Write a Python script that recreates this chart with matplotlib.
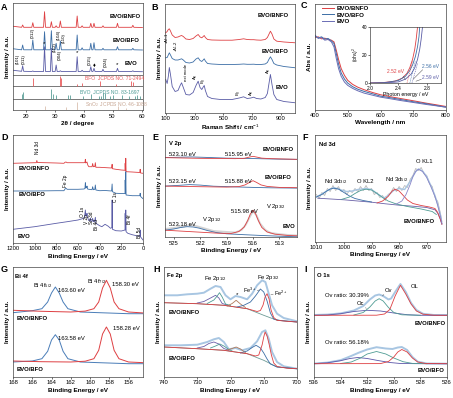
#!/usr/bin/env python3

import matplotlib
matplotlib.use('Agg')
from matplotlib import pyplot as plt

plt.rcParams['font.family'] = ['Liberation Sans', 'DejaVu Sans']
plt.rcParams['mathtext.fontset'] = 'custom'
plt.rcParams['mathtext.rm'] = 'Liberation Sans'
plt.rcParams['mathtext.it'] = 'Liberation Sans:italic'
plt.rcParams['mathtext.bf'] = 'Liberation Sans:bold'

RED = '#de3f42'
BLUE = '#3c6ea6'
PURPLE = '#5a5ca6'
TEAL = '#4f9c94'
ENV = '#a8c6e2'
GREY = '#b8b8b8'

# ---------------- A: XRD ----------------
xrd_2theta = [15.8, 18.65, 19.0, 19.35, 22.15, 22.5, 22.85, 26.2, 26.55, 26.9,
              28.55, 28.9, 29.25, 30.2, 30.55, 30.9, 31.65, 32.0, 32.35, 37.45,
              37.8, 38.15, 39.15, 39.5, 39.85, 42.15, 42.5, 42.85, 43.25, 43.6,
              43.95, 46.35, 46.7, 47.05, 51.35, 51.7, 52.05, 56.65, 57.0, 57.35,
              60.3]
xrd_bvo = [40.0, 39.0, 44.5, 39.0, 38.8, 39.3, 38.8, 38.8, 63.6, 38.8,
           38.8, 62.0, 38.8, 38.8, 45.3, 38.8, 38.8, 39.5, 38.8, 38.8,
           53.6, 38.8, 38.8, 40.0, 38.8, 38.8, 43.6, 38.8, 38.8, 42.0,
           38.8, 38.8, 41.0, 38.8, 38.8, 42.0, 38.8, 38.8, 39.5, 38.8, 38.6]
xrd_bfo = [61.5, 60.5, 65.3, 60.5, 60.5, 70.3, 60.5, 60.5, 78.6, 60.5,
           60.5, 79.6, 60.5, 60.5, 67.0, 60.5, 60.5, 69.3, 60.5, 60.5,
           75.3, 60.5, 60.5, 62.5, 60.5, 60.5, 67.0, 60.5, 60.5, 67.6,
           60.5, 60.5, 62.0, 60.5, 60.5, 63.6, 60.5, 60.5, 62.0, 60.5, 60.3]
xrd_bnfo = [84.0, 83.0, 85.3, 83.0, 83.0, 87.6, 83.0, 83.0, 98.6, 83.0,
            83.0, 88.6, 83.0, 83.0, 84.5, 83.0, 83.0, 89.3, 83.0, 83.0,
            94.3, 83.0, 83.0, 84.5, 83.0, 83.0, 87.0, 83.0, 83.0, 87.0,
            83.0, 83.0, 84.5, 83.0, 83.0, 87.0, 83.0, 83.0, 85.0, 83.0, 82.8]
ref_bfo_pos = [22.4, 31.8, 32.1, 37.8, 39.4, 45.8, 51.3, 56.4, 57.1]
ref_bfo_h = [8, 10, 8, 2.5, 3, 5.5, 2, 5, 4]
ref_bvo_pos = [18.7, 19.0, 28.9, 29.3, 30.5, 34.5, 35.2, 39.8, 42.5, 45.4,
               46.0, 46.7, 47.3, 49.0, 50.3, 53.3, 55.8, 57.8, 58.5, 59.3]
ref_bvo_h = [5, 7, 10, 5, 4, 4, 4, 3, 5, 3, 3, 6, 6, 3, 4, 4, 3, 3, 4, 3]
ref_sno2_pos = [26.6, 33.9, 37.9, 51.8, 54.7]
ref_sno2_h = [4, 3, 8, 4, 2]

# ---------------- B: Raman ----------------
raman_x = [100, 110, 118, 125, 133, 145, 165, 185, 200, 210, 222, 240, 265, 290,
           310, 325, 338, 350, 360, 367, 375, 390, 420, 480, 560, 610, 640, 665,
           690, 710, 730, 760, 790, 805, 815, 826, 837, 850, 870, 920, 1000]
raman_bvo = [33, 29, 36, 45, 38, 26, 21, 22, 27, 29.7, 25, 18, 17.5, 20,
             27, 31.3, 25, 23, 25.5, 27, 22, 16, 14, 13, 13, 14.5, 15.7, 14,
             14.5, 15.3, 14, 13.5, 15, 19, 28, 38, 28, 18, 13, 11, 9.7]
raman_bfo = [54.7, 55, 57.5, 59.7, 57.5, 54, 52.5, 52.5, 53.2, 53.7, 52.5, 50, 49.5, 50.5,
             53.5, 54.7, 52, 51, 52.5, 53.7, 51.5, 49, 48.5, 48, 48, 48.2, 48.5, 48.2,
             48.2, 48.3, 48, 48, 48.5, 50, 53, 55.7, 53, 49, 47.5, 46, 44.7]
raman_bnfo = [79.7, 81, 83, 83.7, 81.5, 77.5, 75, 75.5, 76.5, 77, 76, 73.5, 73, 74,
              76.5, 78, 75.5, 74.7, 76, 77, 75, 73, 72.5, 72.3, 72.3, 73, 73.7, 73,
              72.8, 72.8, 72.5, 72.3, 73, 75, 78, 81.3, 78.5, 73.5, 71.3, 70.5, 69.7]

# ---------------- C: UV-vis ----------------
uv_nm = [400, 410, 420, 430, 440, 450, 458, 465, 472, 480, 490, 500,
         515, 530, 550, 575, 600, 630, 660, 700, 740, 770, 800]
uv_bnfo = [71.7, 72.3, 70.3, 71, 69.7, 69, 67.3, 59, 49.7, 40.7, 34, 29,
           25, 22.3, 19.7, 17, 14.7, 12.7, 11, 8.7, 6.3, 4.7, 3]
uv_bfo = [73, 71.3, 72.3, 70, 70.7, 68.3, 65.7, 55.7, 45, 36.3, 30.3, 26.3,
          22.7, 20.3, 18, 15.7, 13.3, 11.7, 10, 7.7, 5.7, 4, 2.3]
uv_bvo = [74, 70.7, 71.7, 69, 69.7, 67.3, 62.3, 50.7, 40.7, 33, 27.3, 24,
          21, 18.7, 16.3, 14.3, 12.3, 10.7, 9, 7, 5, 3.7, 2.3]
tauc_e_bnfo = [2.0, 2.2, 2.35, 2.45, 2.52, 2.56, 2.6, 2.63, 2.65, 2.67]
tauc_bnfo = [0.3, 0.6, 1.5, 3.5, 7, 11, 17, 24, 31, 40]
tauc_e_bfo = [2.0, 2.2, 2.4, 2.5, 2.56, 2.6, 2.64, 2.67, 2.69, 2.70]
tauc_bfo = [0.2, 0.4, 2, 5, 9, 13, 19, 26, 33, 40]
tauc_e_bvo = [2.0, 2.2, 2.4, 2.5, 2.58, 2.63, 2.67, 2.70, 2.72, 2.74]
tauc_bvo = [0.1, 0.2, 1, 3, 6.5, 11, 17, 24, 31, 40]
gaps = [2.52, 2.56, 2.59]
gap_tangent_top = [(2.60, 16), (2.64, 16), (2.67, 14)]

# ---------------- D: XPS survey ----------------
sv_be_bvo = [1200, 1100, 1000, 900, 800, 700, 600, 560, 540, 532, 528, 520, 517, 512,
             500, 490, 487, 484, 470, 465, 458, 445, 440, 435, 400, 380, 350, 320,
             300, 288, 285, 282, 250, 200, 166, 164.5, 162, 159, 156, 140, 100, 50,
             28, 26, 24, 0]
sv_bvo = [13.7, 15, 16.3, 18, 19.7, 21.3, 23, 24.3, 25.7, 33, 27, 28, 29.7, 25.7,
          22.3, 23, 24.7, 22.3, 21.7, 24.7, 21.3, 22.3, 25.7, 19.7, 17.3, 16.3, 18.7, 16.7,
          14.7, 15.3, 43, 13.7, 12.3, 12, 13, 29.7, 13, 33, 11.3, 9.7, 8.3, 7,
          7, 13, 6.3, 3]
sv_be_bfo = [1200, 1000, 800, 730, 720, 711, 700, 600, 545, 536, 532, 528, 520, 517,
             512, 500, 470, 465, 458, 445, 440, 435, 400, 350, 290, 285, 282, 250,
             200, 166, 164.5, 162, 159, 156, 100, 30, 26, 22, 0]
sv_bfo = [52, 52, 52.3, 52.3, 54, 54.7, 53.7, 53.7, 54, 54.5, 60.3, 55, 55.5, 57,
          54, 53.7, 53.3, 56.3, 53.3, 53.7, 58, 53, 52.3, 52.5, 52, 59, 51.3, 49.7,
          49.5, 49.5, 63, 49.3, 71.3, 48, 47.3, 47.3, 49.7, 46.5, 44.3]
sv_be_bnfo = [1200, 1100, 1000, 985, 980, 975, 900, 800, 730, 720, 711, 700, 600, 545,
              536, 532, 528, 517, 510, 500, 470, 465, 458, 445, 440, 435, 400, 290,
              285, 282, 250, 200, 166, 164.5, 162, 159, 156, 100, 30, 26, 22, 0]
sv_bnfo = [79.7, 80, 80.3, 80.3, 82.5, 80.5, 80.3, 80, 79.7, 80.7, 81, 80.3, 80.3, 80.3,
           80.5, 83.7, 80, 81, 78, 76.3, 76.3, 79.5, 76.3, 76.5, 80.3, 75.7, 75.7, 75,
           78.7, 74.3, 73.7, 73, 72.7, 79.7, 72.5, 84.7, 71.3, 71, 70.5, 73.7, 70, 69.7]

# ---------------- E: V 2p ----------------
e_bvo_red_be = [526, 524, 522, 520, 518.5, 517.6, 517, 516.6, 516.3, 516, 515.7, 515.4,
                515, 514.4, 513.5, 512, 511]
e_bvo_red = [7.3, 6.3, 5.3, 4.3, 4, 6, 10.5, 17, 23.5, 27.3, 23.5, 17,
             10, 5.5, 3.3, 2, 1.7]
e_bvo_blue_be = [526, 525, 524.2, 523.5, 522.8, 522.1, 521.2, 520.2, 519, 517, 515, 513, 511]
e_bvo_blue = [7.3, 8.5, 10, 10.8, 10.5, 9.3, 7, 5, 3.7, 2.8, 2, 1.3, 0.7]
e_bvo_raw_be = [526, 525, 524, 523, 522.3, 521.5, 520.5, 519, 518, 517.3, 516.8, 516.4,
                516, 515.6, 515.2, 514.6, 514, 513, 512, 511]
e_bvo_raw = [8.5, 9.5, 11, 12.5, 11, 9, 6.5, 5.5, 5, 7.5, 13, 20,
             26.5, 22, 14, 7.5, 4.5, 3.3, 2.5, 2]
e_bfo_red_be = [526, 522, 519, 517.6, 516.9, 516.4, 516, 515.6, 515.1, 514.4, 513, 511]
e_bfo_red = [51.3, 50.7, 50.3, 50.8, 52.5, 55, 56.7, 55, 52.5, 51, 50, 49.7]
e_bfo_blue_be = [526, 524.5, 523.2, 522, 520.5, 518, 516, 514, 511]
e_bfo_blue = [51.3, 52, 52.8, 52.3, 51.2, 50.5, 50, 49.6, 49.3]
e_bnfo_red_be = [526, 522, 518, 517, 516.4, 516, 515.6, 515, 514, 511]
e_bnfo_red = [79.7, 79, 78.7, 79, 80.3, 81, 80.3, 79.2, 78.7, 78]
e_bnfo_blue_be = [526, 524.5, 523, 521.5, 519, 517, 515, 513, 511]
e_bnfo_blue = [79.7, 80.1, 80.4, 80, 79.2, 79, 78.6, 78.2, 78]

# ---------------- F: Nd 3d ----------------
f_raw_be = list(range(1010, 964, -1)) + [964.5]
f_raw = [47, 43, 49, 46, 53, 50, 56, 51, 55, 50, 52, 47, 51, 49, 53, 50, 55, 51, 56, 51,
         53, 47, 49, 44, 46, 41, 47, 49, 54, 50, 55, 51, 56, 54, 62, 66, 73, 71, 74, 68,
         66, 58, 55, 44, 40, 28, 20]
f_env_be = [1010, 1008, 1006, 1003.7, 1001, 999, 997, 995, 992, 990, 987.5, 985.5, 984,
            982, 980, 978, 976, 974, 973, 971.5, 970, 968.5, 967, 966, 965, 964.5]
f_env = [44.5, 47.5, 51, 54, 51.5, 50, 50.5, 52, 53, 52, 47, 43.5, 46,
         51, 53, 52, 60, 70, 72.5, 70.5, 65, 56, 46, 37, 26, 18]
f_bg_be = [1009.5, 1000, 990, 985, 980, 975, 970, 967, 966, 965, 964.5]
f_bg = [43.3, 41.7, 39.3, 37.7, 36.3, 35.3, 34, 31.7, 28.3, 21.7, 17.3]
f_nd32_be = [1010, 1008, 1006.5, 1005, 1003.7, 1002, 1000, 998, 996, 993, 990]
f_nd32 = [44.5, 47, 50, 52.5, 53.3, 52.5, 49, 45.5, 43, 41, 39.5]
f_okl2_be = [1001, 998, 996, 994, 992, 990, 988, 986, 984, 981, 977, 972, 968, 966.5]
f_okl2 = [42, 44.5, 48, 51, 52.3, 51.5, 48, 44, 40.5, 37.5, 35, 32.5, 30, 27]
f_nd52_be = [988, 986, 984, 982.5, 981.5, 980, 978.5, 977, 975, 972, 969, 967, 966, 965, 964.5]
f_nd52 = [38.5, 40.5, 45, 50.5, 52.3, 50.5, 46, 41.5, 38, 36, 34.5, 33, 29, 22, 17.3]
f_okl1_be = [981, 979, 977.5, 976, 975, 974, 973, 971.5, 970, 968.5, 967, 966, 965, 964.5]
f_okl1 = [37.5, 40.5, 47, 57, 65, 70, 72.3, 70, 64, 55, 45, 36, 25, 18]

# ---------------- G: Bi 4f ----------------
g_red_be = [168, 165, 162, 160.5, 159.6, 159.1, 158.7, 158.3, 157.9, 157.5, 157.0, 156, 154.4]
g_bnfo_red = [66.7, 65.7, 65, 65.9, 68.3, 75, 89, 96.7, 89, 75, 68.3, 65, 64]
g_bfo_red = [16, 15.3, 15, 15.8, 18.3, 26.7, 43, 50, 43, 26.7, 18.3, 15, 14.3]
g_blue_be = [168, 166, 165, 164.4, 164.0, 163.6, 163.2, 162.8, 162.3, 161, 159, 156, 154.4]
g_bnfo_blue = [64.3, 66.3, 68.3, 75, 84, 90, 84, 75, 68.3, 65, 64.3, 63.3, 63.3]
g_bfo_blue = [15, 16, 18.3, 25.7, 37, 42.3, 37, 25.7, 18.3, 15, 14.3, 13.3, 13.3]

# ---------------- H: Fe 2p ----------------
h_bnfo_env_be = [740, 736, 733, 730, 728, 726, 724.5, 723, 721.5, 720, 718.5, 717, 715,
                 713.5, 712, 710.5, 709.5, 708.5, 707.5, 706, 704, 700]
h_bnfo_env = [81.7, 81.7, 82.7, 83.3, 84.3, 88.3, 91, 90, 81.7, 77.7, 81, 80, 77.7,
              83.3, 91.7, 96.7, 95, 83.3, 71.7, 63.3, 59, 55.7]
h_bnfo_bg_be = [740, 730, 722, 715, 710, 706, 700]
h_bnfo_bg = [74.3, 73.3, 71.7, 68.3, 61.7, 56.7, 55]
h_bnfo_fe3_be = [718, 716, 714, 712.5, 711, 710, 709, 708, 707, 705, 700]
h_bnfo_fe3 = [70, 71.7, 75, 81, 88, 85, 76, 64, 58, 56.5, 55]
h_bnfo_fe2_be = [740, 730, 722, 715, 712, 711, 710.2, 709.6, 709.0, 708.4, 707.8, 707, 706, 703, 700]
h_bnfo_fe2 = [74.3, 73.3, 71.7, 68.3, 65.5, 66.5, 72, 80, 83.3, 78, 67, 59.5, 56.7, 55.7, 55]
h_bnfo_p1_be = [730, 728, 726, 724.5, 723.5, 722.5, 721]
h_bnfo_p1 = [74, 75.5, 79, 81.7, 79, 73.5, 72]
h_bnfo_p2_be = [727, 725, 724, 723.3, 722.5, 721.5, 720]
h_bnfo_p2 = [73.5, 77, 81, 84.3, 80, 73, 71.5]
h_bnfo_sat_be = [721, 719.5, 718.3, 717, 715.5]
h_bnfo_sat = [71, 73.5, 76.7, 73, 69.5]
h_bfo_env_be = [740, 735, 730, 727, 725, 723.5, 722, 720.5, 718.5, 716.5, 714, 712,
                710.5, 709.5, 708.5, 707.5, 706, 704, 700]
h_bfo_env = [31.7, 31.7, 32.3, 35, 37.7, 39, 35, 27.7, 29, 26.7, 29, 35.7,
             45, 46.7, 38.3, 25, 15, 10.7, 8.3]
h_bfo_bg_be = [740, 730, 722, 715, 710, 706, 700]
h_bfo_bg = [30, 28.3, 26.7, 23.3, 16.7, 10, 8.3]
h_bfo_fe2_be = [740, 730, 722, 715, 712.5, 711.5, 710.5, 710, 709.6, 709, 708.4, 707.7,
                707, 706, 703, 700]
h_bfo_fe2 = [30, 28.3, 26.7, 23.3, 21, 22, 32, 40, 45, 41, 33, 22, 14, 10.5, 8.8, 8.3]
h_bfo_fe3_be = [717, 715, 713.5, 712.3, 711, 710, 709, 708, 706, 700]
h_bfo_fe3 = [24, 26, 29.5, 31.7, 29, 24, 18, 13, 10, 8.3]
h_bfo_p1_be = [730, 728, 726.5, 725, 723.5, 722, 720.5]
h_bfo_p1 = [29, 30.5, 33.5, 35, 33, 28.5, 26.7]
h_bfo_p2_be = [726, 724.5, 723.2, 722, 720.5, 719.5]
h_bfo_p2 = [29, 31, 33, 31, 27.5, 26]
h_bfo_sat_be = [721, 719.5, 718.3, 717, 715.5]
h_bfo_sat = [27, 28.5, 30, 28, 24.3]

# ---------------- I: O 1s ----------------
i_bnfo_oc_be = [536, 535, 534, 533, 532, 531, 530, 529, 528, 526]
i_bnfo_oc = [61.7, 62, 63.3, 65.5, 66.7, 66, 64, 62.3, 61.7, 61.7]
i_bnfo_ov_be = [533, 532.3, 531.8, 531.4, 531.1, 530.8, 530.4, 530.0, 529.4, 528]
i_bnfo_ov = [62, 64.5, 70, 76, 78.3, 76, 69.5, 64.5, 62.2, 61.7]
i_bnfo_ol_be = [536, 531.3, 530.7, 530.3, 529.9, 529.5, 529.1, 528.7, 528.3, 527.8, 527, 526]
i_bnfo_ol = [61.7, 61.8, 63, 67.5, 81, 91.7, 83, 73, 66, 62.8, 61.8, 61.7]
i_bnfo_env_be = [536, 535, 534, 533, 532.3, 531.8, 531.4, 531.1, 530.8, 530.4, 530.2,
                 529.9, 529.5, 529.1, 528.7, 528.3, 527.8, 527, 526]
i_bnfo_env = [62, 62.4, 63.6, 66.5, 71, 77.5, 81.5, 82.5, 81, 77.5, 78.5,
              85, 93, 85, 74, 67, 63.2, 62, 62]
i_bfo_oc_be = [536, 535, 534, 533.3, 532.7, 532, 531.2, 530.3, 529.5, 528, 526]
i_bfo_oc = [13.4, 14.2, 16.3, 18.5, 19.5, 18.5, 16.5, 14.5, 13.5, 13.3, 13.3]
i_bfo_ov_be = [534, 533.2, 532.5, 532, 531.3, 530.6, 530, 529.3, 528.6, 527.5]
i_bfo_ov = [13.5, 15, 19, 23, 25.5, 23, 19, 15.3, 13.6, 13.3]
i_bfo_ol_be = [536, 531, 530.4, 530, 529.7, 529.4, 529.0, 528.6, 528.2, 527.6, 526]
i_bfo_ol = [13.3, 13.4, 15.5, 20, 25, 27.5, 25, 19, 15, 13.5, 13.3]
i_bfo_env_be = [536, 535, 534, 533.3, 532.6, 532, 531.3, 530.6, 530.1, 529.7, 529.4,
                529.0, 528.6, 528.2, 527.5, 526]
i_bfo_env = [13.4, 14.4, 16.8, 20.5, 24.5, 27.5, 29.8, 28.5, 28, 29.5, 30,
             27, 20, 15.3, 13.5, 13.3]


W, H = 453, 398


def rect(left, top, right, bottom):
    return [left / W, 1 - bottom / H, (right - left) / W, (bottom - top) / H]


def setup(ax, xlim, ylim, xticks, xlabel, ylabel='Intensity / a.u.'):
    ax.set_xlim(xlim)
    ax.set_ylim(ylim)
    ax.set_xticks(xticks)
    ax.set_yticks([])
    ax.tick_params(axis='x', labelsize=4.2, length=1.5, width=0.4, pad=1)
    for s in ax.spines.values():
        s.set_linewidth(0.5)
        s.set_color('#444444')
    ax.set_xlabel(xlabel, fontsize=4.6, fontweight='bold', labelpad=1.5)
    ax.set_ylabel(ylabel, fontsize=4.6, fontweight='bold', labelpad=2)


def label(ax, x, y, s, size=4.2, **kw):
    kw.setdefault('ha', 'center')
    kw.setdefault('va', 'center')
    ax.text(x, y, s, fontsize=size, **kw)


def lead(ax, xy, xytext):
    ax.annotate('', xy=xy, xytext=xytext,
                arrowprops=dict(arrowstyle='-', lw=0.3, color='#333333'))


sub = lambda s: r'$\mathregular{_{' + s + '}}$'

fig = plt.figure(figsize=(W / 100, H / 100), dpi=100)

# ---- A ----
ax = fig.add_axes(rect(12.5, 3, 143, 110.3))
ax.plot(xrd_2theta, xrd_bnfo, color=RED, lw=0.6)
ax.plot(xrd_2theta, xrd_bfo, color=BLUE, lw=0.6)
ax.plot(xrd_2theta, xrd_bvo, color=PURPLE, lw=0.6)
for yline in (35.6, 24, 11.6):
    ax.axhline(yline, color='#444444', lw=0.5)
ax.vlines(ref_bfo_pos, 24, [24 + h for h in ref_bfo_h], color='#e8585a', lw=0.6)
ax.vlines(ref_bvo_pos, 11.6, [11.6 + h for h in ref_bvo_h], color='#5a9e96', lw=0.6)
ax.vlines(ref_sno2_pos, 0, ref_sno2_h, color='#d9bfae', lw=0.6)
label(ax, 40.5, 32.3, 'BFO  JCPDS NO. 71-2494', size=3.6, ha='left', color='#e55a5c')
label(ax, 38.8, 17.5, 'BVO  JCPDS NO. 83-1697', size=3.6, ha='left', color='#4d9a94')
label(ax, 40.5, 6.0, 'SnO$_2$  JCPDS NO. 46-1088', size=3.6, ha='left', color='#c7a592')
label(ax, 54.5, 94, 'BVO/BNFO', fontweight='bold')
label(ax, 54.5, 70, 'BVO/BFO', fontweight='bold')
label(ax, 56.2, 47, 'BVO', fontweight='bold')
for x, y, s in [(17.4, 46.5, '(101)'), (19.3, 46.0, '(011)'), (30.0, 58.6, '(112)'),
                (31.7, 50.3, '(004)'), (42.1, 45.3, '(015)'), (47.8, 43.6, '(024)'),
                (22.6, 72.0, '(012)'), (31.5, 70.3, '(104)'), (33.2, 67.0, '(110)')]:
    label(ax, x, y, s, size=3.2, rotation=90, va='bottom')
for x, y in [(26.55, 64.5), (37.8, 55), (51.7, 43.5)]:
    label(ax, x, y, '*', size=4.5, va='bottom')
label(ax, 43.7, 45.0, '\u2666', size=4)
setup(ax, (15.5, 60.5), (0, 107.3), [20, 30, 40, 50, 60], '2θ / degree')

# ---- B ----
ax = fig.add_axes(rect(165, 3.5, 295.5, 112.5))
ax.plot(raman_x, raman_bnfo, color=RED, lw=0.6)
ax.plot(raman_x, raman_bfo, color=BLUE, lw=0.6)
ax.plot(raman_x, raman_bvo, color=PURPLE, lw=0.6)
label(ax, 846, 97, 'BVO/BNFO', fontweight='bold')
label(ax, 860, 61, 'BVO/BFO', fontweight='bold')
label(ax, 908, 25, 'BVO', fontweight='bold')
for x, y, s in [(110, 68, '-A' + sub('1') + '-1'), (172, 60, '-A' + sub('1') + '-2'),
                (242, 31.3, 'ext mode'), (306, 33, 'A' + sub('g')), (362, 28, 'B' + sub('g')),
                (607, 16.3, 'B' + sub('g')), (694, 16.3, 'A' + sub('g')),
                (812, 39, 'A' + sub('g'))]:
    label(ax, x, y, s, size=3.1, rotation=90, va='bottom')
setup(ax, (95, 1000), (0, 109), [100, 300, 500, 700, 900], 'Raman Shift / cm$^{-1}$')

# ---- C ----
ax = fig.add_axes(rect(315, 4, 446, 109.5))
ax.plot(uv_nm, uv_bnfo, color=RED, lw=0.7, label='BVO/BNFO')
ax.plot(uv_nm, uv_bfo, color=BLUE, lw=0.7, label='BVO/BFO')
ax.plot(uv_nm, uv_bvo, color='#6a6db5', lw=0.7, label='BVO')
setup(ax, (400, 800), (0, 105), [400, 500, 600, 700, 800], 'Wavelength / nm',
      'Abs / a.u.')
ax.legend(loc='upper left', bbox_to_anchor=(0.05, 0.98), frameon=False,
          prop={'size': 4.4, 'weight': 'bold'}, handlelength=2.0,
          handletextpad=0.4, labelspacing=0.15, borderaxespad=0, borderpad=0)

axi = fig.add_axes(rect(370, 26.7, 441, 83.3))
for e, y, c in [(tauc_e_bnfo, tauc_bnfo, RED), (tauc_e_bfo, tauc_bfo, BLUE),
                (tauc_e_bvo, tauc_bvo, PURPLE)]:
    axi.plot(e, y, color=c, lw=0.6)
for g, top, c in zip(gaps, gap_tangent_top, [RED, BLUE, PURPLE]):
    axi.plot([g, top[0]], [0, top[1]], color=c, lw=0.4, ls=(0, (2, 1.5)))
label(axi, 2.36, 8.5, '2.52 eV', size=3.5, color=RED)
label(axi, 2.85, 12, '2.56 eV', size=3.5, color=BLUE)
label(axi, 2.85, 3.8, '2.59 eV', size=3.5, color=PURPLE)
lead(axi, (2.52, 1.0), (2.45, 6.5))
lead(axi, (2.58, 1.5), (2.77, 11))
lead(axi, (2.61, 0.8), (2.76, 3.5))
axi.set_xlim(2.0, 3.0)
axi.set_ylim(0, 40)
axi.set_xticks([2.0, 2.4, 2.8])
axi.set_yticks([0, 20, 40])
axi.tick_params(labelsize=3.5, length=1.2, width=0.4, pad=0.8)
for s in axi.spines.values():
    s.set_linewidth(0.5)
    s.set_color('#444444')
axi.set_xlabel('Photon energy / eV', fontsize=3.8, labelpad=0.5)
axi.set_ylabel('(αhν)$^2$', fontsize=3.5, labelpad=0.5)

# ---- D ----
ax = fig.add_axes(rect(13, 135, 143, 243))
ax.plot(sv_be_bnfo, sv_bnfo, color=RED, lw=0.6)
ax.plot(sv_be_bfo, sv_bfo, color=BLUE, lw=0.6)
ax.plot(sv_be_bvo, sv_bvo, color=PURPLE, lw=0.6)
label(ax, 1009, 74.7, 'BVO/BNFO', fontweight='bold')
label(ax, 1021, 48, 'BVO/BFO', fontweight='bold')
label(ax, 1100, 7, 'BVO', fontweight='bold')
for x, y, s in [(975, 95.5, 'Nd 3d'), (717, 61.7, 'Fe 2p'), (562, 31, 'O 1s'),
                (522, 23.8, 'V 2p'), (478, 25, 'Sn 3d'), (428, 18, 'Bi 4d'),
                (258, 46.3, 'C 1s'), (129, 24, 'Bi 4f'), (31, 10.5, 'Bi 5d')]:
    label(ax, x, y, s, size=3.4, rotation=90)
setup(ax, (1200, 0), (0, 108), [1200, 1000, 800, 600, 400, 200, 0],
      'Binding Energy / eV')

# ---- E ----
ax = fig.add_axes(rect(165, 135, 297, 237.5))
ax.plot(e_bvo_raw_be, e_bvo_raw, color=GREY, lw=1.4, alpha=0.6)
for be, y, c in [(e_bnfo_blue_be, e_bnfo_blue, BLUE), (e_bnfo_red_be, e_bnfo_red, RED),
                 (e_bfo_blue_be, e_bfo_blue, BLUE), (e_bfo_red_be, e_bfo_red, RED),
                 (e_bvo_blue_be, e_bvo_blue, BLUE), (e_bvo_red_be, e_bvo_red, RED)]:
    ax.plot(be, y, color=c, lw=0.6)
label(ax, 525.6, 94, 'V 2p', ha='left', fontweight='bold')
label(ax, 525.6, 83.3, '523.10 eV', ha='left')
label(ax, 519.2, 83.3, '515.95 eV', ha='left')
label(ax, 514.9, 88, 'BVO/BNFO', ha='left', fontweight='bold')
label(ax, 525.6, 55.7, '523.15 eV', ha='left')
label(ax, 519.2, 55.7, '515.88 eV', ha='left')
label(ax, 514.7, 59.7, 'BVO/BFO', ha='left', fontweight='bold')
label(ax, 525.6, 13.3, '523.18 eV', ha='left')
label(ax, 521.8, 18, 'V 2p' + sub('1/2'), ha='left')
label(ax, 518.5, 26.3, '515.98 eV', ha='left')
label(ax, 514.5, 31.3, 'V 2p' + sub('3/2'), ha='left')
label(ax, 512.6, 10.7, 'BVO', ha='left', fontweight='bold')
setup(ax, (526, 511), (0, 102.3), [525, 522, 519, 516, 513], 'Binding Energy / eV')

# ---- F ----
ax = fig.add_axes(rect(315, 135, 446, 241.5))
ax.plot(f_raw_be, f_raw, color=GREY, lw=0.6)
ax.plot(f_env_be, f_env, color=ENV, lw=1.0)
ax.plot(f_bg_be, f_bg, color='#6b62a8', lw=0.6)
ax.plot(f_nd32_be, f_nd32, color=BLUE, lw=0.6)
ax.plot(f_okl2_be, f_okl2, color=TEAL, lw=0.6)
ax.plot(f_nd52_be, f_nd52, color=RED, lw=0.6)
ax.plot(f_okl1_be, f_okl1, color='#8a86c8', lw=0.6)
label(ax, 1009.2, 96.7, 'Nd 3d', ha='left', fontweight='bold')
label(ax, 970.8, 80, 'O KL1')
label(ax, 1003.1, 60, 'Nd 3d' + sub('3/2'))
label(ax, 992.1, 60, 'O KL2')
label(ax, 981, 61.7, 'Nd 3d' + sub('5/2'))
label(ax, 972.6, 20, 'BVO/BNFO', fontweight='bold')
setup(ax, (1010.5, 963), (0, 106.5), [1010, 1000, 990, 980, 970], 'Binding Energy / eV')

# ---- G ----
ax = fig.add_axes(rect(13, 267, 143, 377))
ax.plot(g_blue_be, g_bnfo_blue, color='#4a7db8', lw=0.7)
ax.plot(g_red_be, g_bnfo_red, color=RED, lw=0.7)
ax.plot(g_blue_be, g_bfo_blue, color='#4a7db8', lw=0.7)
ax.plot(g_red_be, g_bfo_red, color=RED, lw=0.7)
label(ax, 167.8, 100, 'Bi 4f', ha='left', fontweight='bold')
label(ax, 164.9, 91.7, 'Bi 4f' + sub('5/2'))
label(ax, 163.3, 86.7, '163.60 eV', ha='left')
label(ax, 159.3, 95.7, 'Bi 4f' + sub('7/2'))
label(ax, 157.7, 92.3, '158.30 eV', ha='left')
label(ax, 167.65, 58.3, 'BVO/BNFO', ha='left', fontweight='bold')
label(ax, 163.3, 39, '163.58 eV', ha='left')
label(ax, 157.6, 48.3, '158.28 eV', ha='left')
label(ax, 167.65, 7.7, 'BVO/BFO', ha='left', fontweight='bold')
setup(ax, (168, 154.5), (0, 110), [168, 166, 164, 162, 160, 158, 156],
      'Binding Energy / eV')

# ---- H ----
ax = fig.add_axes(rect(164, 267, 297, 377))
for grp in [(h_bnfo_env_be, h_bnfo_env, h_bnfo_bg_be, h_bnfo_bg, h_bnfo_p1_be, h_bnfo_p1,
             h_bnfo_p2_be, h_bnfo_p2, h_bnfo_sat_be, h_bnfo_sat, h_bnfo_fe3_be, h_bnfo_fe3,
             h_bnfo_fe2_be, h_bnfo_fe2),
            (h_bfo_env_be, h_bfo_env, h_bfo_bg_be, h_bfo_bg, h_bfo_p1_be, h_bfo_p1,
             h_bfo_p2_be, h_bfo_p2, h_bfo_sat_be, h_bfo_sat, h_bfo_fe3_be, h_bfo_fe3,
             h_bfo_fe2_be, h_bfo_fe2)]:
    ax.plot(grp[0], grp[1], color=ENV, lw=1.4)
    ax.plot(grp[2], grp[3], color='#6d9b95', lw=0.6)
    ax.plot(grp[4], grp[5], color='#6a5fa8', lw=0.6)
    ax.plot(grp[6], grp[7], color=TEAL, lw=0.6)
    ax.plot(grp[8], grp[9], color='#b07a5a', lw=0.6)
    ax.plot(grp[10], grp[11], color=BLUE, lw=0.6)
    ax.plot(grp[12], grp[13], color=RED, lw=0.6)
label(ax, 739.2, 101.7, 'Fe 2p', ha='left', fontweight='bold')
label(ax, 724.6, 98.3, 'Fe 2p' + sub('1/2'))
label(ax, 708.5, 100, 'Fe 2p' + sub('3/2'))
label(ax, 717.9, 82.5, '*', size=4.5)
label(ax, 714.1, 86.7, 'Fe$^{3+}$', size=4)
label(ax, 704.8, 83.3, 'Fe$^{2+}$', size=4)
lead(ax, (711.3, 87), (712.8, 86))
lead(ax, (708.7, 82.5), (706.3, 83))
label(ax, 738.7, 65, 'BVO/BNFO', ha='left', fontweight='bold')
label(ax, 738.7, 18.3, 'BVO/BFO', ha='left', fontweight='bold')
setup(ax, (740, 700), (0, 110), [740, 730, 720, 710, 700], 'Binding Energy / eV')

# ---- I ----
ax = fig.add_axes(rect(314, 267, 447, 377))
ax.plot(i_bnfo_env_be, i_bnfo_env, color=ENV, lw=1.4)
ax.plot(i_bnfo_oc_be, i_bnfo_oc, color='#5b56a8', lw=0.6)
ax.plot(i_bnfo_ov_be, i_bnfo_ov, color=TEAL, lw=0.6)
ax.plot(i_bnfo_ol_be, i_bnfo_ol, color=RED, lw=0.6)
ax.plot(i_bfo_env_be, i_bfo_env, color=ENV, lw=1.4)
ax.plot(i_bfo_oc_be, i_bfo_oc, color='#5b56a8', lw=0.6)
ax.plot(i_bfo_ov_be, i_bfo_ov, color=TEAL, lw=0.6)
ax.plot(i_bfo_ol_be, i_bfo_ol, color=RED, lw=0.6)
label(ax, 535.8, 101.7, 'O 1s', ha='left', fontweight='bold')
label(ax, 535.15, 81.7, 'Ov ratio: 30.39%', ha='left')
label(ax, 532.5, 73.3, 'Oc')
label(ax, 530.4, 86.7, 'Ov')
label(ax, 528.4, 91, 'OL')
lead(ax, (531.9, 67), (532.3, 71))
lead(ax, (531.0, 79), (530.6, 84.5))
label(ax, 526.1, 53.3, 'BVO/BNFO', ha='right', fontweight='bold')
label(ax, 535.15, 34, 'Ov ratio: 56.18%', ha='left')
label(ax, 526.2, 6.7, 'BVO/BFO', ha='right', fontweight='bold')
setup(ax, (536, 526), (0, 110), [536, 534, 532, 530, 528, 526], 'Binding Energy / eV')

for s, x, y in [('A', 4.5, 8), ('B', 154.5, 7), ('C', 304, 6), ('D', 4.5, 138),
                ('E', 155.5, 138), ('F', 305.5, 138), ('G', 4.5, 270),
                ('H', 156.5, 270), ('I', 305.5, 270)]:
    fig.text(x / W, 1 - y / H, s, fontsize=6.5, fontweight='bold',
             ha='center', va='center')

fig.savefig('out.png', dpi=100)
